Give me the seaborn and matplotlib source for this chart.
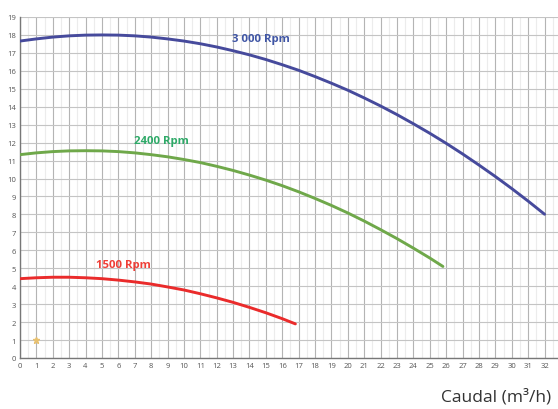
import pandas as pd
import matplotlib
matplotlib.use("Agg")
import matplotlib.pyplot as plt
import seaborn as sns

# curves (flow m3/h, head m)
x_3000 = list(range(0, 33))
h_3000 = [17.66, 17.78, 17.88, 17.95, 17.99, 18.00, 17.99, 17.95, 17.88, 17.78,
          17.66, 17.51, 17.33, 17.12, 16.89, 16.63, 16.34, 16.03, 15.68, 15.31,
          14.92, 14.49, 14.04, 13.56, 13.05, 12.52, 11.96, 11.37, 10.75, 10.11,
          9.44, 8.74, 8.01]

x_2400 = list(range(0, 26)) + [25.8]
h_2400 = [11.33, 11.43, 11.50, 11.54, 11.55, 11.54, 11.50, 11.43, 11.33, 11.21,
          11.06, 10.89, 10.68, 10.45, 10.19, 9.91, 9.60, 9.26, 8.89, 8.50,
          8.08, 7.63, 7.15, 6.65, 6.12, 5.57, 5.10]

x_1500 = list(range(0, 17)) + [16.8]
h_1500 = [4.42, 4.47, 4.50, 4.50, 4.47, 4.42, 4.34, 4.24, 4.12, 3.96,
          3.79, 3.58, 3.35, 3.10, 2.82, 2.52, 2.19, 1.90]

x_ticks = list(range(0, 33))
y_ticks = list(range(0, 20))

sns.set_style("white")
plt.rcParams["font.family"] = ["Open Sans", "DejaVu Sans"]

fig = plt.figure(figsize=(5.58, 4.1), dpi=100)
ax = fig.add_axes([0.0358, 0.1244, 0.9695, 0.8317])

# grid
for v in range(0, 34):
    ax.axvline(v, color="#b4b4b4", lw=0.8, zorder=0)
    ax.axvline(v + 0.5, color="#ececec", lw=0.8, zorder=0)
for v in y_ticks:
    ax.axhline(v, color="#c4c4c4", lw=0.8, zorder=0)

curves = [
    (x_3000, h_3000, "#464a9c"),
    (x_2400, h_2400, "#6fa84a"),
    (x_1500, h_1500, "#ea2b2b"),
]
for xs, hs, col in curves:
    df = pd.DataFrame({"q": xs, "h": hs})
    sns.lineplot(data=df, x="q", y="h", color=col, lw=2.1, ax=ax, zorder=3)

ax.text(14.7, 17.8, "3 000 Rpm", color="#3f55a5", fontsize=8.2, fontweight="bold", ha="center", va="center")
ax.text(8.6, 12.1, "2400 Rpm", color="#2eaa68", fontsize=8.2, fontweight="bold", ha="center", va="center")
ax.text(6.3, 5.2, "1500 Rpm", color="#ef3e36", fontsize=8.2, fontweight="bold", ha="center", va="center")

ax.plot([1], [1], marker="*", color="#e8c170", markersize=5, zorder=4)

ax.set_xlim(0, 33)
ax.set_ylim(0, 19)
ax.set_xticks(x_ticks)
ax.set_yticks(y_ticks)
ax.tick_params(labelsize=5.5, colors="#555555", length=0, pad=3)
ax.set_xlabel("")
ax.set_ylabel("")
for s in ["top", "right"]:
    ax.spines[s].set_visible(False)
for s in ["left", "bottom"]:
    ax.spines[s].set_color("#777777")
    ax.spines[s].set_linewidth(1.0)

fig.text(0.988, 0.01, "Caudal (m³/h)", fontsize=12.5, color="#333333", ha="right", va="bottom")

fig.savefig("out.png", dpi=100)
